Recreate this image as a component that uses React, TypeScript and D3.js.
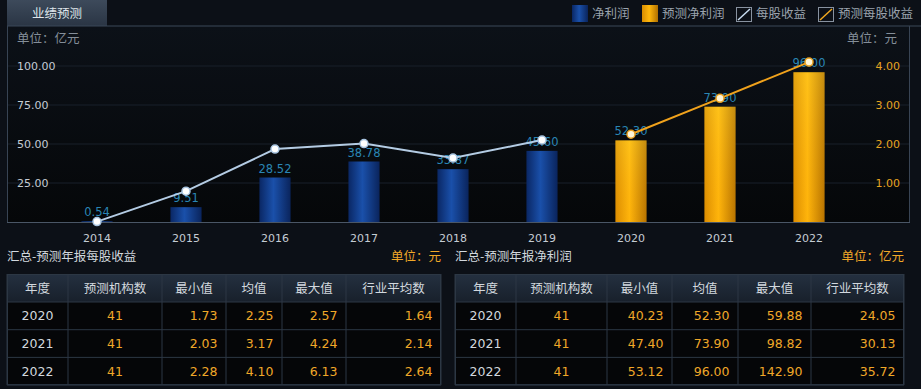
import * as d3 from 'd3'

// chart data
const years = ['2014', '2015', '2016', '2017', '2018', '2019', '2020', '2021', '2022']
const netProfit = [0.54, 9.51, 28.52, 38.78, 33.87, 45.6, 52.3, 73.9, 96.0]
const eps = [0.01, 0.79, 1.87, 2.01, 1.64, 2.1, 2.25, 3.17, 4.1]
const firstForecast = '2020'
const leftTicks = [25, 50, 75, 100]
const rightTicks = [1, 2, 3, 4]

// tables
const tableYears = ['2020', '2021', '2022']
const tableHeads = ['年度', '预测机构数', '最小值', '均值', '最大值', '行业平均数']
const epsCount = [41, 41, 41]
const epsMin = [1.73, 2.03, 2.28]
const epsMean = [2.25, 3.17, 4.1]
const epsMax = [2.57, 4.24, 6.13]
const epsIndustry = [1.64, 2.14, 2.64]
const npCount = [41, 41, 41]
const npMin = [40.23, 47.4, 53.12]
const npMean = [52.3, 73.9, 96.0]
const npMax = [59.88, 98.82, 142.9]
const npIndustry = [24.05, 30.13, 35.72]

const CJK = '"Noto Sans CJK SC", sans-serif'
const NUM = '"DejaVu Sans", sans-serif'

const W = 921
const H = 389

function Table({ cols, count, mins, means, maxs, inds }: {
  cols: number[], count: number[], mins: number[], means: number[], maxs: number[], inds: number[]
}) {
  const top = 274
  const headH = 28
  const rowH = 27.7
  const bottom = top + headH + rowH * 3
  const rows = tableYears.map((y, i) => [y, String(count[i]), mins[i].toFixed(2), means[i].toFixed(2), maxs[i].toFixed(2), inds[i].toFixed(2)])
  return (
    <g>
      <rect x={cols[0]} y={top} width={cols[6] - cols[0]} height={headH} fill="url(#headGrad)" />
      <rect x={cols[0]} y={top + headH} width={cols[6] - cols[0]} height={rowH * 3} fill="#050608" />
      {tableHeads.map((h, j) => (
        <text key={h} x={(cols[j] + cols[j + 1]) / 2} y={top + headH / 2 + 4.5} textAnchor="middle"
          fontFamily={CJK} fontSize={12.5} fill="#d2d8de">{h}</text>
      ))}
      {rows.map((r, i) => r.map((v, j) => {
        const cy = top + headH + rowH * i + rowH / 2 + 4.5
        const center = j < 2
        return (
          <text key={i + '-' + j} x={center ? (cols[j] + cols[j + 1]) / 2 : cols[j + 1] - 8.5} y={cy}
            textAnchor={center ? 'middle' : 'end'} fontFamily={NUM} fontSize={12.5}
            fill={j === 0 ? '#d2d8de' : '#f0a828'}>{v}</text>
        )
      }))}
      {[0, 1, 2, 3].map(i => (
        <line key={'h' + i} x1={cols[0]} x2={cols[6]} y1={top + headH + rowH * i} y2={top + headH + rowH * i} stroke="#2c3744" />
      ))}
      {cols.map((c, j) => (
        <line key={'v' + j} x1={c} x2={c} y1={top} y2={bottom} stroke="#2c3744" />
      ))}
      <rect x={cols[0] + 0.5} y={top + 0.5} width={cols[6] - cols[0] - 1} height={bottom - top - 1} fill="none" stroke="#2c3744" />
    </g>
  )
}

export default function App() {
  const x = d3.scaleBand<string>().domain(years).range([52.5, 853.5]).paddingInner(0.65).paddingOuter(0.325)
  const yL = d3.scaleLinear().domain([0, 100]).range([222, 66])
  const yR = d3.scaleLinear().domain([0, 4]).range([222, 66])
  const cx = (d: string) => x(d)! + x.bandwidth() / 2
  const isFc = (d: string) => +d >= +firstForecast

  const pts = years.map((d, i) => ({ d, v: eps[i] }))
  const line = d3.line<{ d: string, v: number }>().x(p => cx(p.d)).y(p => yR(p.v))
  const actual = pts.filter(p => !isFc(p.d))
  const forecast = pts.filter(p => isFc(p.d))

  return (
    <div>
      <style>{'body{margin:0;background:#0c1017}'}</style>
      <svg width={W} height={H} style={{ display: 'block' }}>
        <defs>
          <linearGradient id="bgGrad" x1="0" y1="0" x2="0" y2="1">
            <stop offset="0" stopColor="#0c1118" />
            <stop offset="1" stopColor="#050709" />
          </linearGradient>
          <linearGradient id="tabGrad" x1="0" y1="0" x2="0" y2="1">
            <stop offset="0" stopColor="#3d4a5b" />
            <stop offset="1" stopColor="#2a3544" />
          </linearGradient>
          <linearGradient id="headGrad" x1="0" y1="0" x2="0" y2="1">
            <stop offset="0" stopColor="#243040" />
            <stop offset="1" stopColor="#18202b" />
          </linearGradient>
          <linearGradient id="blueGrad" x1="0" y1="0" x2="1" y2="0">
            <stop offset="0" stopColor="#0a2764" />
            <stop offset="0.45" stopColor="#1a50aa" />
            <stop offset="1" stopColor="#0a245c" />
          </linearGradient>
          <linearGradient id="orangeGrad" x1="0" y1="0" x2="1" y2="0">
            <stop offset="0" stopColor="#d88c00" />
            <stop offset="0.45" stopColor="#ffb80c" />
            <stop offset="1" stopColor="#b07000" />
          </linearGradient>
          <linearGradient id="orangeShade" x1="0" y1="0" x2="0" y2="1">
            <stop offset="0" stopColor="#ffe040" stopOpacity="0.25" />
            <stop offset="1" stopColor="#ff9000" stopOpacity="0.1" />
          </linearGradient>
        </defs>

        <rect x={0} y={0} width={W} height={H} fill="#0c1017" />
        <rect x={7} y={26} width={902} height={196} fill="url(#bgGrad)" />

        {/* header tab */}
        <rect x={7} y={0} width={100} height={26} fill="url(#tabGrad)" />
        <text x={57} y={18} textAnchor="middle" fontFamily={CJK} fontSize={12.5} fill="#dfe5ea">业绩预测</text>
        <line x1={7} x2={921} y1={26} y2={26} stroke="#3a4858" />

        {/* legend */}
        <rect x={572} y={5} width={16} height={17} fill="url(#blueGrad)" />
        <text x={592} y={18} fontFamily={CJK} fontSize={12.5} fill="#9aa3ad">净利润</text>
        <rect x={642} y={5} width={16} height={17} fill="url(#orangeGrad)" />
        <text x={662} y={18} fontFamily={CJK} fontSize={12.5} fill="#9aa3ad">预测净利润</text>
        <rect x={736.5} y={7.5} width={15} height={14} fill="#0c1017" stroke="#8892a0" />
        <line x1={738} x2={750} y1={20} y2={9} stroke="#c8dcf0" strokeWidth={1.5} />
        <text x={756} y={18} fontFamily={CJK} fontSize={12.5} fill="#9aa3ad">每股收益</text>
        <rect x={818.5} y={7.5} width={15} height={14} fill="#0c1017" stroke="#8892a0" />
        <line x1={820} x2={832} y1={20} y2={9} stroke="#f0a820" strokeWidth={1.5} />
        <text x={838} y={18} fontFamily={CJK} fontSize={12.5} fill="#9aa3ad">预测每股收益</text>

        {/* units */}
        <text x={17} y={43} fontFamily={CJK} fontSize={12.5} fill="#848e99">单位：亿元</text>
        <text x={897} y={43} textAnchor="end" fontFamily={CJK} fontSize={12.5} fill="#848e99">单位：元</text>

        {/* grid */}
        {leftTicks.map(t => (
          <line key={t} x1={8} x2={909} y1={yL(t)} y2={yL(t)} stroke="#19212b" />
        ))}
        {leftTicks.map(t => (
          <text key={'l' + t} x={17} y={yL(t) + 4} fontFamily={NUM} fontSize={11} fill="#c4ccd4">{t.toFixed(2)}</text>
        ))}
        {rightTicks.map(t => (
          <text key={'r' + t} x={900} y={yR(t) + 4} textAnchor="end" fontFamily={NUM} fontSize={11} fill="#e6a420">{t.toFixed(2)}</text>
        ))}
        <line x1={7.5} x2={7.5} y1={26} y2={222} stroke="#384454" />
        <line x1={909.5} x2={909.5} y1={26} y2={222} stroke="#384454" />
        <line x1={7} x2={910} y1={222.5} y2={222.5} stroke="#4a5666" />

        {/* bars */}
        {years.map((d, i) => (
          <g key={d}>
            <rect x={x(d)} y={yL(netProfit[i])} width={x.bandwidth()} height={yL(0) - yL(netProfit[i])}
              fill={isFc(d) ? 'url(#orangeGrad)' : 'url(#blueGrad)'} />
            {isFc(d) && (
              <rect x={x(d)} y={yL(netProfit[i])} width={x.bandwidth()} height={yL(0) - yL(netProfit[i])} fill="url(#orangeShade)" />
            )}
          </g>
        ))}
        {years.map((d, i) => (
          <text key={'t' + d} x={cx(d)} y={yL(netProfit[i]) - 5} textAnchor="middle" fontFamily={NUM} fontSize={11.5} fill="#2a86b4">
            {netProfit[i].toFixed(2)}
          </text>
        ))}

        {/* eps lines */}
        <path d={line(actual)!} fill="none" stroke="#b4cce4" strokeWidth={2} />
        <path d={line(forecast)!} fill="none" stroke="#f0a21c" strokeWidth={2} />
        {actual.map(p => (
          <circle key={'a' + p.d} cx={cx(p.d)} cy={yR(p.v)} r={4} fill="#ffffff" stroke="#a8c4e0" strokeWidth={1.5} />
        ))}
        {forecast.map(p => (
          <circle key={'f' + p.d} cx={cx(p.d)} cy={yR(p.v)} r={4} fill="#fff6d8" stroke="#e8a020" strokeWidth={1.5} />
        ))}

        {/* x axis labels */}
        {years.map(d => (
          <text key={'x' + d} x={cx(d)} y={242} textAnchor="middle" fontFamily={NUM} fontSize={11} fill="#c4ccd4">{d}</text>
        ))}

        {/* table titles */}
        <text x={7} y={261} fontFamily={CJK} fontSize={12.5} fill="#d2d8de">汇总-预测年报每股收益</text>
        <text x={441} y={261} textAnchor="end" fontFamily={CJK} fontSize={12.5} fill="#f0a828">单位：元</text>
        <text x={455} y={261} fontFamily={CJK} fontSize={12.5} fill="#d2d8de">汇总-预测年报净利润</text>
        <text x={904} y={261} textAnchor="end" fontFamily={CJK} fontSize={12.5} fill="#f0a828">单位：亿元</text>

        <Table cols={[7, 68, 162, 226, 282, 346, 441]} count={epsCount} mins={epsMin} means={epsMean} maxs={epsMax} inds={epsIndustry} />
        <Table cols={[455, 516, 607, 672, 738, 811, 904]} count={npCount} mins={npMin} means={npMean} maxs={npMax} inds={npIndustry} />
      </svg>
    </div>
  )
}
